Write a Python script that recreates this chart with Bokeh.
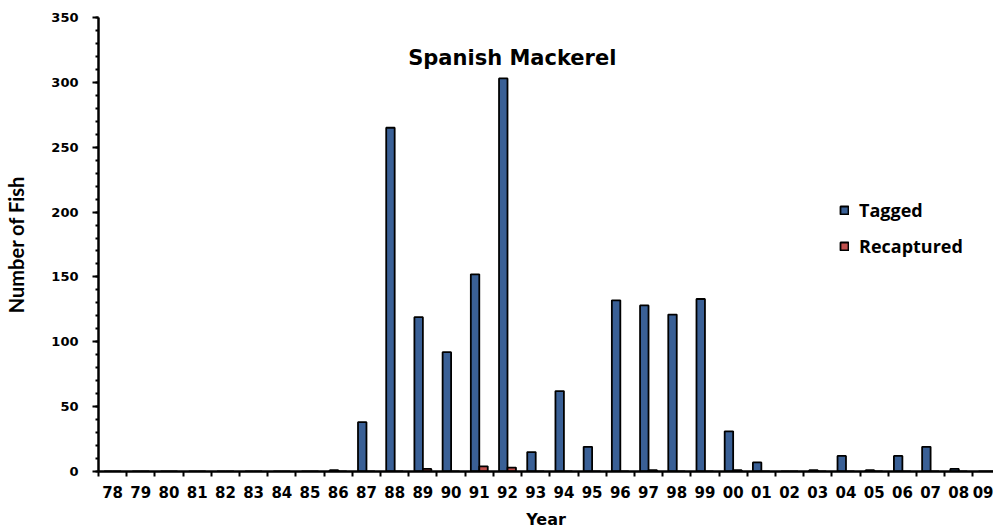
from bokeh.plotting import figure
from bokeh.models import Range1d, FixedTicker, Label, Legend, LegendItem, ColumnDataSource
from bokeh.embed import file_html
from bokeh.resources import INLINE

# ---- data ----
years = ["78", "79", "80", "81", "82", "83", "84", "85", "86", "87", "88", "89",
         "90", "91", "92", "93", "94", "95", "96", "97", "98", "99", "00", "01",
         "02", "03", "04", "05", "06", "07", "08", "09"]
tagged = [0, 0, 0, 0, 0, 0, 0, 0, 1, 38, 265, 119,
          92, 152, 303, 15, 62, 19, 132, 128, 121, 133, 31, 7,
          0, 1, 12, 1, 12, 19, 2, 0]
recaptured = [0, 0, 0, 0, 0, 0, 0, 0, 0, 0, 0, 2,
              0, 4, 3, 0, 0, 0, 0, 1, 0, 0, 1, 0,
              0, 0, 0, 0, 0, 0, 0, 0]
y_ticks = [0, 50, 100, 150, 200, 250, 300, 350]

BLUE = "#3A6096"
RED = "#C0504D"

n = len(years)
centers = [i + 0.5 for i in range(n)]
src = ColumnDataSource(dict(
    xt=[c - 0.15 for c in centers],
    xr=[c + 0.15 for c in centers],
    tagged=tagged,
    rec=recaptured,
))

p = figure(width=993, height=532, output_backend="svg", toolbar_location=None,
           x_range=Range1d(0, 31.73), y_range=Range1d(0, 350),
           min_border_left=98, min_border_top=17, min_border_right=0,
           min_border_bottom=61)
p.outline_line_color = None
p.xgrid.visible = False
p.ygrid.visible = False
p.background_fill_color = "white"

rt = p.vbar(x="xt", top="tagged", width=0.3, source=src, fill_color=BLUE,
            line_color="black", line_width=1.8)
rr = p.vbar(x="xr", top="rec", width=0.3, source=src, fill_color=RED,
            line_color="black", line_width=1.8)

# x axis
xa = p.xaxis[0]
xa.ticker = FixedTicker(ticks=centers, minor_ticks=list(range(n + 1)))
xa.major_label_overrides = {c: y for c, y in zip(centers, years)}
xa.major_tick_out = 0
xa.major_tick_in = 0
xa.minor_tick_out = 5
xa.minor_tick_in = 0
xa.minor_tick_line_width = 2
xa.minor_tick_line_color = "black"
xa.axis_line_width = 2.5
xa.axis_line_color = "black"
xa.major_label_standoff = 9
xa.major_label_text_font = "DejaVu Sans"
xa.major_label_text_font_style = "bold"
xa.major_label_text_font_size = "15px"
xa.major_label_text_color = "black"
xa.axis_label = "Year"
xa.axis_label_text_font = "DejaVu Sans"
xa.axis_label_text_font_style = "bold"
xa.axis_label_text_font_size = "16px"
xa.axis_label_text_color = "black"
xa.axis_label_standoff = 9

# y axis
ya = p.yaxis[0]
ya.ticker = FixedTicker(ticks=y_ticks, minor_ticks=list(range(0, 351, 10)))
ya.major_tick_out = 6
ya.major_tick_in = 0
ya.minor_tick_out = 3
ya.minor_tick_in = 0
ya.major_tick_line_width = 2
ya.minor_tick_line_width = 2
ya.major_tick_line_color = "black"
ya.minor_tick_line_color = "black"
ya.axis_line_width = 2.5
ya.axis_line_color = "black"
ya.major_label_standoff = 14
ya.major_label_text_font = "DejaVu Sans"
ya.major_label_text_font_style = "bold"
ya.major_label_text_font_size = "13px"
ya.major_label_text_color = "black"
ya.axis_label = "Number of Fish"
ya.axis_label_text_font = "Lato"
ya.axis_label_text_font_style = "bold"
ya.axis_label_text_font_size = "20px"
ya.axis_label_text_color = "black"
ya.axis_label_standoff = 20

# title inside plot
title = Label(x=14.67, y=319, text="Spanish Mackerel", text_align="center",
              text_baseline="middle", text_font="DejaVu Sans", text_font_style="bold",
              text_font_size="21px", text_color="black")
p.add_layout(title)

legend = Legend(items=[LegendItem(label="Tagged", renderers=[rt]),
                       LegendItem(label="Recaptured", renderers=[rr])],
                location=(741, 213), padding=0, margin=0, spacing=12,
                glyph_width=10, glyph_height=10, label_standoff=10,
                label_text_font="Open Sans", label_text_font_style="bold",
                label_text_font_size="18px", label_text_color="black",
                border_line_color=None, background_fill_alpha=0)
p.add_layout(legend)

open("out.html", "w").write(file_html(p, INLINE))
